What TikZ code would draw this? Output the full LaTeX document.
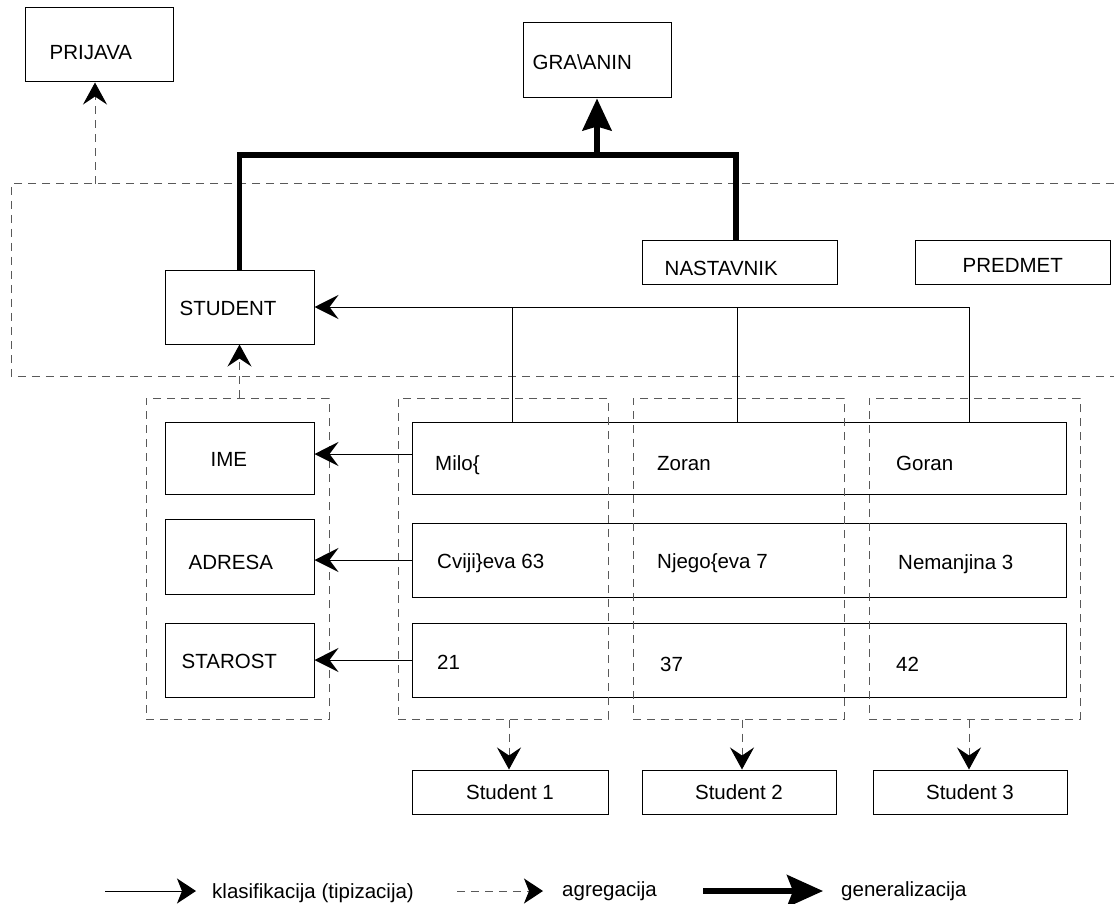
\documentclass[tikz,border=0pt]{standalone}
\usepackage{fontspec}
\setmainfont{Liberation Sans}
\usetikzlibrary{arrows.meta}
\begin{document}
\begin{tikzpicture}[x=1pt,y=-1pt,
  sz/.style 2 args={minimum width=#1pt, minimum height=#2pt},
  box/.style={draw=black, line width=1pt, inner sep=0pt},
  grp/.style={draw=black!65, line width=1pt, dash pattern=on 8pt off 6pt, inner sep=0pt},
  lbl/.style={inner sep=0pt, anchor=west, text height=14.5pt, text depth=0pt, font=\fontsize{20.5}{24}\selectfont},
  clsarrow/.style={draw=black, line width=1pt, -{Stealth[length=24pt, width=24pt, inset=9pt]}},
  aggarrow/.style={draw=black!65, line width=1pt, dash pattern=on 8pt off 6pt, -{Stealth[length=22pt, width=24pt, inset=8pt, color=black]}},
  genline/.style={draw=black, line width=5.5pt, line join=miter},
  genarrow/.style={genline, -{Stealth[length=32pt, width=29pt, inset=4pt]}}]
\useasboundingbox (0,0) rectangle (1114,904);

% upper level boxes
\node[box, sz={148}{74}] (prijava) at (99,45) {};
\path (prijava.west) ++(25,7) node[lbl] {PRIJAVA};
\node[box, sz={148}{75}] (gra) at (597,60.5) {};
\path (gra.west) ++(10,1.5) node[lbl] {GRA\textbackslash ANIN};
\node[box, sz={195}{43}] (nast) at (739.5,262.5) {};
\path (nast.west) ++(23,5.5) node[lbl] {NASTAVNIK};
\node[box, sz={195}{43}] (pred) at (1012.5,262.5) {};
\path (pred.west) ++(48,2.5) node[lbl] {PREDMET};

% type level frame (open to the right)
\draw[grp] (1114,184) -- (11,184) -- (11,376) -- (1114,376);

\node[box, sz={149}{74}] (student) at (239.5,307) {};
\path (student.west) ++(15,1) node[lbl] {STUDENT};

% attribute boxes
\node[grp, sz={183}{321}] (attr) at (237.5,558.5) {};
\node[box, sz={149}{72}] (ime) at (239.5,458) {};
\path (ime.west) ++(46,1) node[lbl] {IME};
\node[box, sz={149}{75}] (adresa) at (239.5,556.5) {};
\path (adresa.west) ++(24,5.5) node[lbl] {ADRESA};
\node[box, sz={149}{74}] (starost) at (239.5,660) {};
\path (starost.west) ++(17,1) node[lbl] {STAROST};

% value rows
\node[box, sz={654}{72}] (row1) at (739,458) {};
\node[box, sz={654}{74}] (row2) at (739,560) {};
\node[box, sz={654}{74}] (row3) at (739,660) {};

% instance groups
\node[grp, sz={210}{321}] (col1) at (503,558.5) {};
\node[grp, sz={211}{321}] (col2) at (738.5,558.5) {};
\node[grp, sz={211}{321}] (col3) at (974.5,558.5) {};

\node[lbl] at (435,463) {Milo\{};
\node[lbl] at (657,463) {Zoran};
\node[lbl] at (896,463) {Goran};
\node[lbl] at (437,561) {Cviji\}eva 63};
\node[lbl] at (657,561) {Njego\{eva 7};
\node[lbl] at (898,562) {Nemanjina 3};
\node[lbl] at (437,662) {21};
\node[lbl] at (660,664) {37};
\node[lbl] at (896,664) {42};

% instances
\node[box, sz={196}{44}] (s1) at (510,792) {};
\node[lbl, anchor=center] at (s1) {Student 1};
\node[box, sz={194}{44}] (s2) at (739,792) {};
\node[lbl, anchor=center] at (s2) {Student 2};
\node[box, sz={194}{44}] (s3) at (970,792) {};
\node[lbl, anchor=center] at (s3) {Student 3};

% generalization
\coordinate (gj) at (597,155);
\draw[genline] (student.north) -- (student.north |- gj) -- (gj -| 736,0) -- (nast.north -| 736,0);
\draw[genarrow] (gj) -- (gra.south);

% aggregation
\coordinate (pj) at (95,184);
\draw[aggarrow] (pj) -- (pj |- prijava.south);
\draw[aggarrow] (student.south |- attr.north) -- (student.south);
\draw[aggarrow] (col1.south -| 509,0) -- (s1.north -| 509,0);
\draw[aggarrow] (col2.south -| 742,0) -- (s2.north -| 742,0);
\draw[aggarrow] (col3.south -| 969,0) -- (s3.north -| 969,0);

% classification
\draw[clsarrow] (row1.north -| 969,0) |- (student.east);
\draw[line width=1pt] (row1.north -| 512,0) -- (student.east -| 512,0);
\draw[line width=1pt] (row1.north -| 737,0) -- (student.east -| 737,0);
\draw[clsarrow] ([yshift=4pt]row1.west) -- ([yshift=4pt]row1.west -| ime.east);
\draw[clsarrow] (row2.west) -- (row2.west -| adresa.east);
\draw[clsarrow] (row3.west) -- (row3.west -| starost.east);

% legend
\coordinate (la1) at (105,891);
\coordinate (lb1) at (196,891);
\coordinate (la2) at (457,891);
\coordinate (lb2) at (543,891);
\coordinate (la3) at (703,891);
\coordinate (lb3) at (823,891);
\draw[line width=1pt, -{Stealth[length=19pt, width=25pt, inset=5pt]}] (la1) -- (lb1);
\node[lbl] at (212,891) {klasifikacija (tipizacija)};
\draw[draw=black!65, line width=1pt, dash pattern=on 8pt off 6pt, -{Stealth[length=19pt, width=25pt, inset=5pt, color=black]}] (la2) -- (lb2);
\node[lbl] at (562,889) {agregacija};
\draw[genline, -{Stealth[length=36pt, width=32pt, inset=6pt]}] (la3) -- (lb3);
\node[lbl] at (841,889) {generalizacija};
\end{tikzpicture}
\end{document}
